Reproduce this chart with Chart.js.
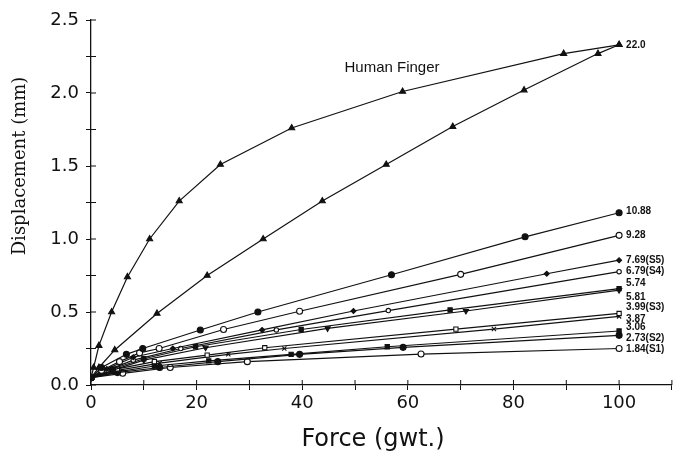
<!DOCTYPE html>
<html>
<head>
<meta charset="utf-8">
<script src="https://cdn.jsdelivr.net/npm/chart.js@4/dist/chart.umd.min.js"></script>
<style>
  html, body { margin: 0; padding: 0; background: #fff; }
  #wrap { width: 677px; height: 454px; }
</style>
</head>
<body>
<div id="wrap"><canvas id="chart" width="677" height="454"></canvas></div>
<script>
// force (gwt.) / displacement (mm) pairs
const fingerUpper = [[0,0.05],[0.5,0.12],[1.5,0.27],[3.9,0.5],[6.9,0.74],[11.1,1.0],[16.7,1.26],[24.5,1.51],[38,1.76],[59,2.01],[89.5,2.27],[100,2.33]];
const fingerLower = [[0,0.05],[1.5,0.12],[4.5,0.24],[12.5,0.49],[22,0.75],[32.6,1.0],[43.8,1.26],[55.9,1.51],[68.5,1.77],[82,2.02],[96,2.27],[100,2.33]];
const s1088 = [[0,0.05],[2,0.12],[6.7,0.21],[9.8,0.25],[20.7,0.377],[31.6,0.5],[56.9,0.755],[82.2,1.015],[100,1.18]];
const s928 = [[0,0.05],[2,0.1],[5.4,0.16],[9.2,0.22],[12.9,0.25],[25.1,0.38],[39.5,0.505],[70,0.758],[100,1.025]];
const s769 = [[0,0.05],[3,0.11],[8,0.19],[15.5,0.25],[32.4,0.377],[49.7,0.507],[86.3,0.762],[100,0.855]];
const s679 = [[0,0.05],[3,0.1],[8,0.17],[17,0.25],[35.1,0.377],[56.3,0.51],[100,0.776]];
const s574 = [[0,0.05],[4,0.11],[10,0.18],[19.8,0.262],[39.8,0.38],[68,0.514],[100,0.66]];
const s581 = [[0,0.05],[4,0.1],[10,0.17],[21.7,0.255],[44.8,0.388],[71,0.507],[100,0.65]];
const s399 = [[0,0.05],[5,0.11],[12,0.16],[22,0.205],[32.9,0.255],[69.1,0.383],[100,0.49]];
const s387 = [[0,0.05],[5,0.1],[13,0.15],[26,0.21],[36.6,0.25],[76.3,0.383],[100,0.47]];
const s306 = [[0,0.05],[5,0.09],[12,0.13],[22.3,0.165],[37.9,0.21],[56.1,0.262],[100,0.37]];
const s273 = [[0,0.05],[5,0.085],[13,0.12],[24,0.16],[39.5,0.21],[59.1,0.258],[100,0.34]];
const s184 = [[0,0.05],[6,0.08],[15,0.12],[29.6,0.16],[62.5,0.212],[100,0.25]];

const endLabels = ['22.0', '', '10.88', '9.28', '7.69(S5)', '6.79(S4)', '5.74', '5.81', '3.99(S3)', '3.87', '3.06', '2.73(S2)', '1.84(S1)'];
const xTickLabels = ['0', '20', '40', '60', '80', '100'];
const yTickLabels = ['0.0', '0.5', '1.0', '1.5', '2.0', '2.5'];

// marker style per series: [pointStyle, filled, radius, rotation, label nudge]
const styles = [
  ['triangle', true, 3.5, 0, 0],
  ['triangle', true, 3.5, 0, 0],
  ['circle', true, 3, 0, -1],
  ['circle', false, 3, 0, 0],
  ['rectRot', true, 2.5, 0, 0],
  ['circle', false, 2.2, 0, 0],
  ['rect', true, 3, 0, -5],
  ['triangle', true, 3, 180, 7],
  ['rect', false, 3, 0, -6],
  ['crossRot', false, 3, 0, 3],
  ['rect', true, 3, 0, -4],
  ['circle', true, 3, 0, 3],
  ['circle', false, 3, 0, 1]
];
const series = [fingerUpper, fingerLower, s1088, s928, s769, s679, s574, s581, s399, s387, s306, s273, s184];

const datasets = series.map((pts, i) => {
  const st = styles[i];
  return {
    data: pts.map(p => ({ x: p[0], y: p[1] })),
    borderColor: '#111',
    borderWidth: 1.2,
    pointStyle: st[0],
    pointRadius: st[2],
    pointRotation: st[3],
    pointBackgroundColor: st[1] ? '#111' : '#fff',
    pointBorderColor: '#111',
    pointBorderWidth: 1.1,
    tension: 0,
    fill: false,
    endLabel: endLabels[i],
    labelDy: st[4]
  };
});

const extras = {
  id: 'extras',
  afterDraw(chart) {
    const ctx = chart.ctx;
    const xs = chart.scales.x, ys = chart.scales.y;
    const area = chart.chartArea;
    ctx.save();
    ctx.strokeStyle = '#111';
    ctx.lineWidth = 1;
    // inner half of the crossing tick marks
    ys.ticks.forEach(t => {
      const py = ys.getPixelForValue(t.value);
      ctx.beginPath(); ctx.moveTo(area.left, py); ctx.lineTo(area.left + 5, py); ctx.stroke();
    });
    xs.ticks.forEach(t => {
      const px = xs.getPixelForValue(t.value);
      ctx.beginPath(); ctx.moveTo(px, area.bottom); ctx.lineTo(px, area.bottom - 5); ctx.stroke();
    });

    // end-of-curve labels
    ctx.fillStyle = '#111';
    ctx.font = 'bold 10px "Liberation Sans", Arial, sans-serif';
    ctx.textBaseline = 'middle';
    ctx.textAlign = 'left';
    chart.data.datasets.forEach((ds, i) => {
      if (!ds.endLabel) return;
      const meta = chart.getDatasetMeta(i);
      const last = meta.data[meta.data.length - 1];
      ctx.fillText(ds.endLabel, last.x + 7, last.y + ds.labelDy);
    });

    ctx.font = '15px "Liberation Sans", Arial, sans-serif';
    ctx.textAlign = 'center';
    ctx.fillText('Human Finger', xs.getPixelForValue(57), ys.getPixelForValue(2.17));

    // axis titles
    ctx.font = '24px "DejaVu Sans", sans-serif';
    ctx.fillText('Force (gwt.)', 373, 440);
    ctx.translate(20, 166);
    ctx.rotate(-Math.PI / 2);
    ctx.font = '18px "DejaVu Serif", serif';
    ctx.fillText('Displacement (mm)', 0, 0);
    ctx.restore();
  }
};

new Chart(document.getElementById('chart'), {
  type: 'line',
  data: { datasets },
  options: {
    responsive: false,
    animation: false,
    layout: { padding: { top: 20, right: 0, left: 0, bottom: 0 } },
    plugins: { legend: { display: false }, tooltip: { enabled: false } },
    scales: {
      x: {
        type: 'linear',
        min: 0, max: 110,
        afterFit(scale) { scale.height = 69; },
        border: { color: '#111', width: 1.3 },
        grid: { drawOnChartArea: false, drawTicks: true, tickLength: 5, color: '#111' },
        ticks: {
          stepSize: 10, padding: 3, color: '#111',
          font: { family: '"DejaVu Sans", sans-serif', size: 18 },
          maxRotation: 0, autoSkip: false,
          callback: v => (v % 20 === 0 && v <= 100) ? xTickLabels[v / 20] : ''
        }
      },
      y: {
        min: 0, max: 2.5,
        afterFit(scale) { scale.width = 91; },
        border: { color: '#111', width: 1.3 },
        grid: { drawOnChartArea: false, drawTicks: true, tickLength: 5, color: '#111' },
        ticks: {
          stepSize: 0.25, padding: 7, color: '#111',
          font: { family: '"DejaVu Sans", sans-serif', size: 18 },
          autoSkip: false,
          callback: v => (Math.abs(v / 0.5 - Math.round(v / 0.5)) < 1e-6) ? yTickLabels[Math.round(v / 0.5)] : ''
        }
      }
    }
  },
  plugins: [extras]
});
</script>
</body>
</html>
